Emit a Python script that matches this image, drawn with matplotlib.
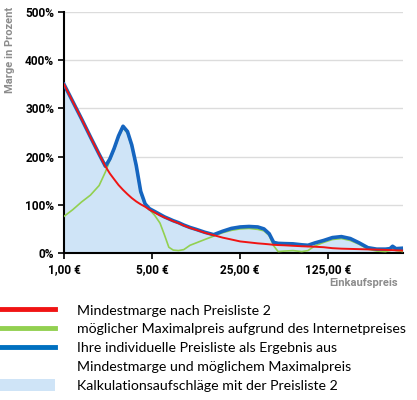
import matplotlib
matplotlib.use("Agg")
import matplotlib.pyplot as plt
from matplotlib.lines import Line2D
from matplotlib.patches import Patch
from matplotlib.ticker import FixedLocator, NullLocator

# Einkaufspreis in Euro (log-Achse)
preis = [1.00, 1.175, 1.38, 1.62, 1.90, 2.13, 2.31, 2.50, 2.71, 2.94,
         3.19, 3.45, 3.74, 4.06, 4.40, 4.76, 5.25, 5.78, 6.26, 6.79,
         7.36, 8.10, 8.92, 10.0, 11.2, 13.1, 15.4, 18.1, 21.3, 25.0,
         29.4, 34.5, 38.6, 42.5, 46.1, 50.0, 55.9, 65.6, 77.1, 86.3,
         98.2, 115, 135, 159, 187, 220, 258, 303, 356, 386,
         405, 431, 490]

# Mindestmarge nach Preisliste 2 (%)
mindestmarge = [350, 314, 278, 241, 205, 180, 165, 153, 141, 131,
                122, 114, 107, 101, 96, 90, 84, 78, 74, 70,
                66, 62, 57, 52, 48, 42, 37, 32, 28, 24,
                22, 20, 19, 18, 17, 16.5, 16, 15, 14, 13.5,
                13, 12, 10, 9, 8.5, 8, 7.5, 7, 6.5, 6,
                6, 5.5, 5]

# möglicher Maximalpreis aufgrund des Internetpreises (%)
maximalpreis = [76, 90, 106, 120, 140, 168, 192, 214, 240, 260,
                248, 220, 178, 123, 100, 90, 78, 62, 38, 12,
                6, 5, 7, 16, 21, 28, 35, 42, 47, 50,
                51, 49, 46, 36, 15, 3, 4, 5, 3, 5,
                15, 22, 28, 30, 26, 18, 8, 4, 3, 5,
                10, 5, 3]

# individuelle Preisliste (%)
preisliste = [350, 314, 278, 241, 205, 180, 195, 217, 243, 263,
              252, 224, 182, 128, 102, 92, 86, 80, 75, 71,
              67, 63, 58, 53, 49, 43, 38, 45, 51, 54,
              55, 54, 50, 40, 22, 20, 19.5, 19, 17, 16,
              21, 26, 32, 34, 30, 21, 11, 8, 8, 9,
              14, 9, 10]

y_ticks = [0, 100, 200, 300, 400, 500]
x_ticks = [1, 5, 25, 125]
x_labels = ["1,00 €", "5,00 €", "25,00 €", "125,00 €"]

legend_texts = ["Mindestmarge nach Preisliste 2",
                "möglicher Maximalpreis aufgrund des Internetpreises",
                "Ihre individuelle Preisliste als Ergebnis aus",
                "Mindestmarge und möglichem Maximalpreis",
                "Kalkulationsaufschläge mit der Preisliste 2"]

rot = "#f01414"
gruen = "#92d050"
blau = "#1565c0"
hellblau = "#cfe4f7"

plt.rcParams["font.family"] = ["Roboto", "DejaVu Sans"]

fig = plt.figure(figsize=(4.17, 4.0), dpi=100)
ax = fig.add_axes([64 / 417, 147 / 400, 339 / 417, 241 / 400])

ax.fill_between(preis, 0, preisliste, color=hellblau, lw=0, zorder=1)
ax.plot(preis, maximalpreis, color=gruen, lw=1.2, zorder=3)
ax.plot(preis, preisliste, color=blau, lw=2.6, zorder=4)
ax.plot(preis, mindestmarge, color=rot, lw=1.4, zorder=5)

ax.set_xscale("log")
ax.set_xlim(1, 490)
ax.set_ylim(0, 500)
ax.xaxis.set_major_locator(FixedLocator(x_ticks))
ax.xaxis.set_minor_locator(NullLocator())
ax.set_xticklabels(x_labels)
ax.set_yticks(y_ticks)
ax.set_yticklabels([f"{v}%" for v in y_ticks])
for lab in ax.get_xticklabels() + ax.get_yticklabels():
    lab.set_fontweight("bold")
    lab.set_fontsize(8.6)

ax.grid(axis="y", color="#dcdcdc", lw=1)
ax.set_axisbelow(True)
for s in ["top", "right"]:
    ax.spines[s].set_visible(False)
ax.spines["left"].set_linewidth(1.5)
ax.spines["bottom"].set_linewidth(1.5)
ax.tick_params(axis="both", length=4, width=1.2, pad=3)

fig.text(10 / 417, 1 - 50 / 400, "Marge in Prozent", rotation=90, ha="center",
         va="center", color="#8c8c8c", fontweight="bold", fontsize=8)
fig.text(398 / 417, 1 - 283 / 400, "Einkaufspreis", ha="right", va="center",
         color="#8c8c8c", fontweight="bold", fontsize=8)

handles = [Line2D([], [], color=rot, lw=3.5),
           Line2D([], [], color=gruen, lw=3.5),
           Line2D([], [], color="#0070c0", lw=3.5),
           Line2D([], [], color="none", lw=0),
           Patch(facecolor=hellblau, edgecolor="none")]
fig.legend(handles, legend_texts, loc="upper left",
           bbox_to_anchor=(0, 1 - 304 / 400), frameon=False, borderpad=0,
           borderaxespad=0, handlelength=3.85, handleheight=0.9,
           handletextpad=1.6, labelspacing=0.42,
           prop={"family": "Lato", "size": 10.2})

fig.savefig("out.png", dpi=100)
